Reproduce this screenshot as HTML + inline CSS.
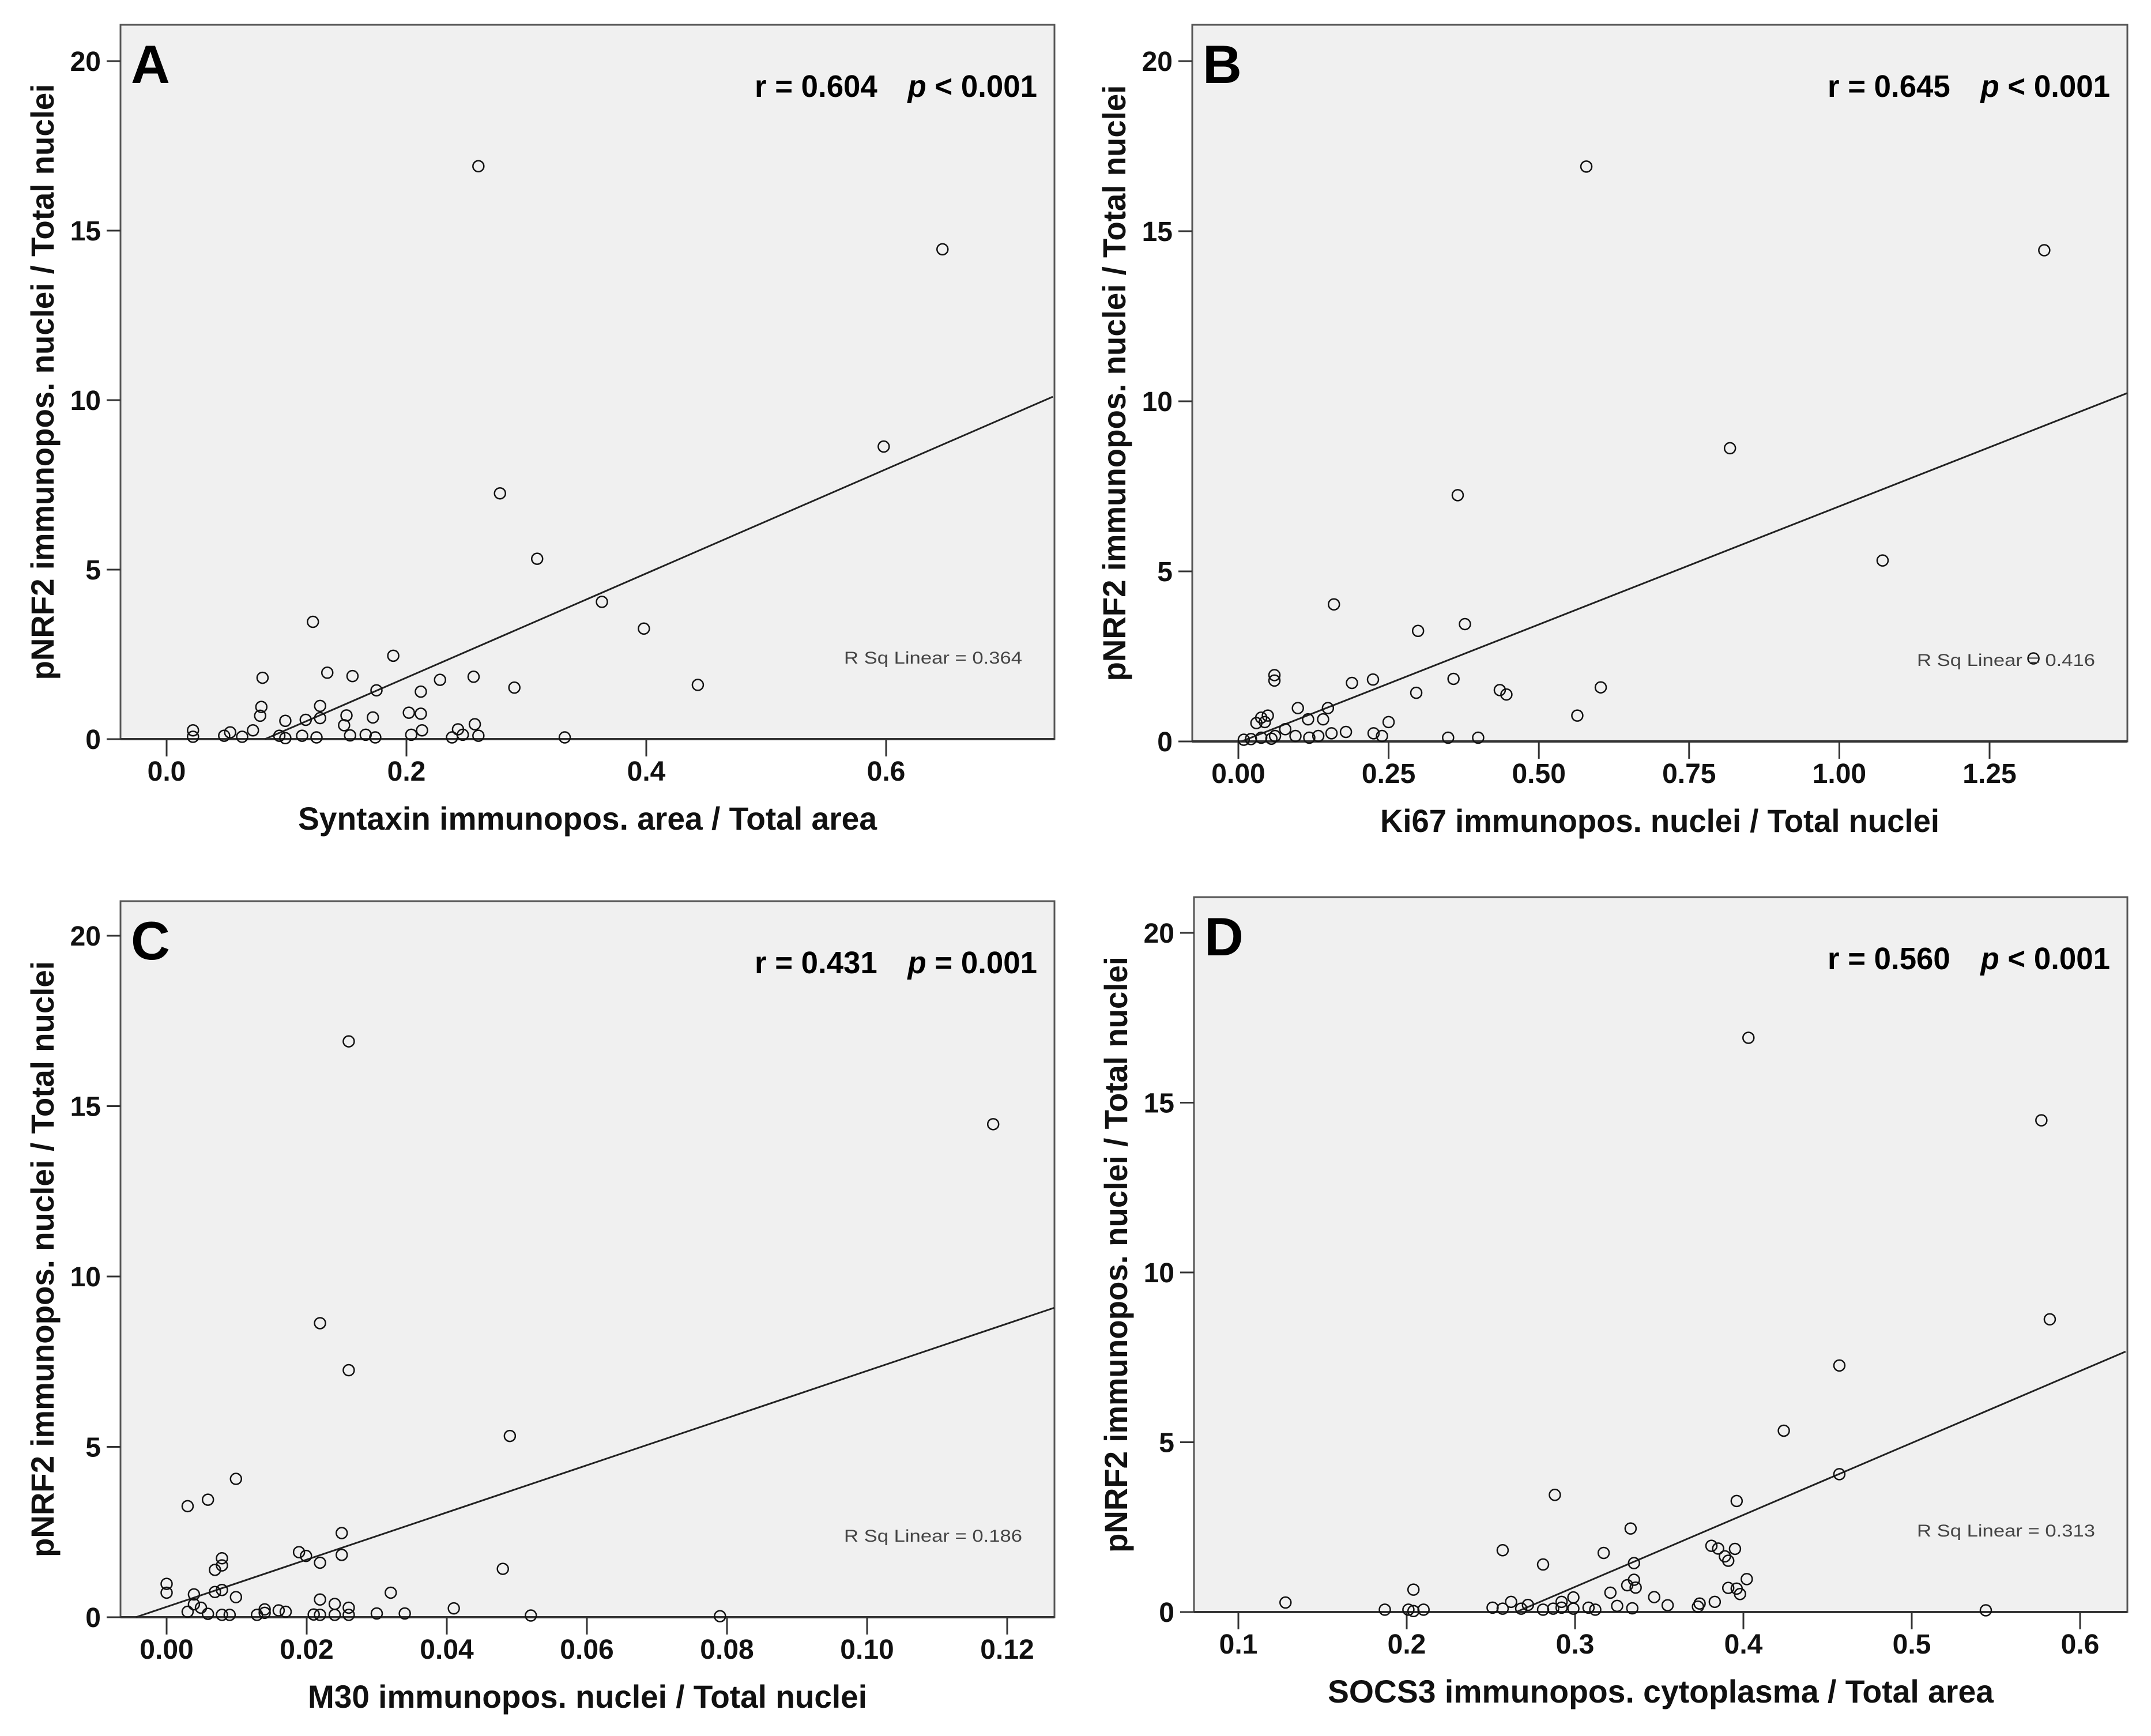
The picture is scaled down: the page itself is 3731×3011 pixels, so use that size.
<!DOCTYPE html>
<html><head><meta charset="utf-8">
<style>
html,body{margin:0;padding:0;background:#fff;}
svg{display:block;}
text{font-family:"Liberation Sans",Arial,sans-serif;}
</style></head>
<body>
<svg id="fig" width="3731" height="3011" viewBox="0 0 3731 3011" xmlns="http://www.w3.org/2000/svg"></svg>
<script>
// ---- Panel A data (Syntaxin) ----
const aX = [0.26,0.647,0.598,0.278,0.309,0.363,0.398,0.443,0.122,0.189,0.134,0.155,0.08,0.228,0.256,0.29,0.175,0.212,0.079,0.078,0.128,0.128,0.099,0.116,0.15,0.148,0.172,0.202,0.212,0.213,0.204,0.243,0.257,0.247,0.26,0.238,0.332,0.022,0.022,0.048,0.053,0.063,0.072,0.094,0.099,0.113,0.125,0.153,0.166,0.174];
const aY = [16.9,14.45,8.63,7.25,5.32,4.05,3.26,1.6,3.46,2.46,1.96,1.86,1.81,1.75,1.84,1.52,1.44,1.4,0.95,0.69,0.98,0.62,0.54,0.57,0.7,0.41,0.64,0.78,0.75,0.26,0.13,0.29,0.44,0.13,0.1,0.05,0.05,0.26,0.07,0.1,0.2,0.07,0.26,0.1,0.03,0.1,0.05,0.11,0.13,0.05];
const aTicks = [0.0,0.2,0.4,0.6];
const aTickLabels = ["0.0","0.2","0.4","0.6"];
const aFit = [0.082,0.739];
const aFitY = [0,10.1];
// ---- Panel B data (Ki67) ----
const bX = [0.579,1.341,0.818,0.365,1.072,0.159,0.299,0.377,0.06,0.06,0.189,0.224,0.358,0.296,0.435,0.446,0.603,0.564,1.323,0.099,0.149,0.116,0.141,0.25,0.049,0.038,0.03,0.044,0.078,0.225,0.239,0.179,0.155,0.349,0.399,0.009,0.021,0.038,0.061,0.095,0.118,0.133,0.055];
const bY = [16.9,14.44,8.62,7.24,5.32,4.03,3.25,3.45,1.95,1.79,1.72,1.82,1.84,1.43,1.51,1.38,1.59,0.76,2.44,0.98,0.98,0.65,0.65,0.57,0.76,0.7,0.54,0.57,0.36,0.24,0.16,0.28,0.24,0.11,0.11,0.05,0.07,0.11,0.16,0.16,0.11,0.16,0.08];
const bTicks = [0,0.25,0.5,0.75,1.0,1.25];
const bTickLabels = ["0.00","0.25","0.50","0.75","1.00","1.25"];
const bFit = [0.005,1.479];
const bFitY = [0,10.24];
// ---- Panel C data (M30) ----
const cX = [0.026,0.118,0.0219,0.026,0.049,0.0099,0.003,0.0059,0.025,0.025,0.0189,0.0199,0.0219,0.0079,0.0079,0.0069,0.048,0,0,0.0039,0.0069,0.0079,0.0099,0.032,0.0219,0.024,0.026,0.041,0.0039,0.0049,0.003,0.0059,0.0079,0.009,0.0129,0.014,0.014,0.016,0.017,0.021,0.0219,0.024,0.026,0.03,0.034,0.052,0.079];
const cY = [16.9,14.47,8.63,7.25,5.32,4.06,3.26,3.45,2.47,1.83,1.91,1.8,1.6,1.73,1.52,1.39,1.42,0.98,0.72,0.67,0.74,0.8,0.59,0.72,0.52,0.39,0.28,0.26,0.38,0.28,0.16,0.1,0.07,0.07,0.07,0.23,0.13,0.2,0.16,0.08,0.07,0.07,0.07,0.11,0.11,0.05,0.03];
const cTicks = [0,0.02,0.04,0.06,0.08,0.10,0.12];
const cTickLabels = ["0.00","0.02","0.04","0.06","0.08","0.10","0.12"];
const cFit = [-0.0044,0.1267];
const cFitY = [0,9.08];
// ---- Panel D data (SOCS3) ----
const dX = [0.403,0.577,0.582,0.457,0.424,0.457,0.396,0.288,0.333,0.257,0.317,0.281,0.335,0.381,0.385,0.395,0.389,0.391,0.402,0.391,0.396,0.398,0.335,0.331,0.336,0.321,0.347,0.299,0.204,0.128,0.187,0.201,0.204,0.21,0.251,0.257,0.262,0.272,0.268,0.281,0.287,0.292,0.292,0.299,0.308,0.312,0.325,0.334,0.355,0.373,0.374,0.383,0.544];
const dY = [16.91,14.48,8.62,7.26,5.34,4.06,3.27,3.45,2.46,1.82,1.74,1.4,1.44,1.95,1.87,1.86,1.64,1.51,0.97,0.71,0.69,0.53,0.95,0.79,0.72,0.57,0.44,0.43,0.66,0.28,0.07,0.07,0.03,0.07,0.13,0.1,0.3,0.21,0.1,0.07,0.1,0.3,0.13,0.1,0.13,0.07,0.18,0.11,0.2,0.16,0.25,0.3,0.05];
const dTicks = [0.1,0.2,0.3,0.4,0.5,0.6];
const dTickLabels = ["0.1","0.2","0.3","0.4","0.5","0.6"];
const dFit = [0.265,0.627];
const dFitY = [0,7.67];
const yTicks = [0,5,10,15,20];
const yTickLabels = ["0","5","10","15","20"];

const NS = "http://www.w3.org/2000/svg";
const svg = document.getElementById('fig');
function mk(tag, attrs, parent){
  const e = document.createElementNS(NS, tag);
  for (const k in attrs) e.setAttribute(k, attrs[k]);
  (parent||svg).appendChild(e);
  return e;
}
function txt(s, attrs, parent){ const e = mk('text', attrs, parent); e.textContent = s; return e; }

function panel(cfg){
  const g = mk('g', {});
  
  
  const L=cfg.L, R=cfg.R, T=cfg.T, B=cfg.B;
  const sx = v => cfg.px0 + (v - cfg.v0) * cfg.ppu;
  const sy = v => B - v * cfg.ppy;
  const bg = mk('rect', {x:L, y:T, width:R-L, height:B-T, fill:'#f0f0f0', stroke:'#555', 'stroke-width':3}, g);
  
  
  // y ticks
  yTicks.forEach((v,i) => {
    const y = sy(v);
    const t = mk('line', {x1:L-24, x2:L, y1:y, y2:y, stroke:'#333', 'stroke-width':3}, g);
    
    
    const lb = txt(yTickLabels[i], {x:L-34, y:y+17, 'text-anchor':'end', 'font-size':48, 'font-weight':'bold', fill:'#111'}, g);
    
    
  });
  // x axis line (bottom border stronger)
  mk('line', {x1:L, x2:R, y1:B, y2:B, stroke:'#333', 'stroke-width':4}, g);
  cfg.ticks.forEach((v,i) => {
    const x = sx(v);
    const t = mk('line', {x1:x, x2:x, y1:B, y2:B+30, stroke:'#333', 'stroke-width':3}, g);
    
    
    const lb = txt(cfg.labels[i], {x:x, y:B+72, 'text-anchor':'middle', 'font-size':48, 'font-weight':'bold', fill:'#111'}, g);
    
    
  });
  // fit line
  const fl = mk('line', {x1:sx(cfg.fx[0]), y1:sy(cfg.fy[0]), x2:sx(cfg.fx[1]), y2:sy(cfg.fy[1]), stroke:'#222', 'stroke-width':3}, g);
  
  
  // points
  cfg.xs.forEach((v,i) => {
    const c = mk('circle', {cx:sx(v), cy:sy(cfg.ys[i]), r:9.5, fill:'none', stroke:'#111', 'stroke-width':2.5}, g);
    
    
  });
  // panel letter
  const pl = txt(cfg.id, {x:L+18, y:T+101, 'font-size':94, 'font-weight':'bold', fill:'#000'}, g);
  
  
  // stats
  const st = mk('text', {x:R-30, y:T+125, 'text-anchor':'end', 'font-size':54, 'font-weight':'bold', fill:'#000', textLength:490, lengthAdjust:'spacingAndGlyphs'}, g);
  
  
  const t1 = mk('tspan', {}, st); t1.textContent = cfg.r + '\u2002\u2002';
  const t2 = mk('tspan', {'font-style':'italic'}, st); t2.textContent = 'p';
  const t3 = mk('tspan', {}, st); t3.textContent = cfg.p;
  // R sq
  const rs = txt(cfg.rsq, {x:R-56, y:B-131, 'text-anchor':'end', 'font-size':30, fill:'#444', textLength:309, lengthAdjust:'spacingAndGlyphs'}, g);
  
  
  // axis titles
  const cy = (T+B)/2;
  const yt = txt('pNRF2 immunopos. nuclei / Total nuclei', {x:L-131, y:cy, transform:'rotate(-90 '+(L-131)+' '+cy+')', 'text-anchor':'middle', 'dominant-baseline':'middle', 'font-size':56, 'font-weight':'bold', fill:'#111', textLength:1034, lengthAdjust:'spacingAndGlyphs'}, g);
  
  
  const xt = txt(cfg.xtitle, {x:(L+R)/2, y:B+157, 'text-anchor':'middle', 'font-size':56, 'font-weight':'bold', fill:'#111', textLength:cfg.xtw, lengthAdjust:'spacingAndGlyphs'}, g);
  
  
}

panel({id:'A', L:209, R:1829, T:43, B:1282, px0:289, v0:0, ppu:2080, ppy:58.8,
  xs:aX, ys:aY, ticks:aTicks, labels:aTickLabels, fx:aFit, fy:aFitY,
  r:'r = 0.604', p:' < 0.001', rsq:'R Sq Linear = 0.364',
  xtitle:'Syntaxin immunopos. area / Total area', xtw:1004});
panel({id:'B', L:2068, R:3690, T:43, B:1286, px0:2148, v0:0, ppu:1042.4, ppy:59.0,
  xs:bX, ys:bY, ticks:bTicks, labels:bTickLabels, fx:bFit, fy:bFitY,
  r:'r = 0.645', p:' < 0.001', rsq:'R Sq Linear = 0.416',
  xtitle:'Ki67 immunopos. nuclei / Total nuclei', xtw:970});
panel({id:'C', L:209, R:1829, T:1563, B:2805, px0:289, v0:0, ppu:12150, ppy:59.1,
  xs:cX, ys:cY, ticks:cTicks, labels:cTickLabels, fx:cFit, fy:cFitY,
  r:'r = 0.431', p:' = 0.001', rsq:'R Sq Linear = 0.186',
  xtitle:'M30 immunopos. nuclei / Total nuclei', xtw:970});
panel({id:'D', L:2071, R:3690, T:1556, B:2796, px0:2148, v0:0.1, ppu:2920, ppy:58.9,
  xs:dX, ys:dY, ticks:dTicks, labels:dTickLabels, fx:dFit, fy:dFitY,
  r:'r = 0.560', p:' < 0.001', rsq:'R Sq Linear = 0.313',
  xtitle:'SOCS3 immunopos. cytoplasma / Total area', xtw:1155});
</script>
</body></html>
